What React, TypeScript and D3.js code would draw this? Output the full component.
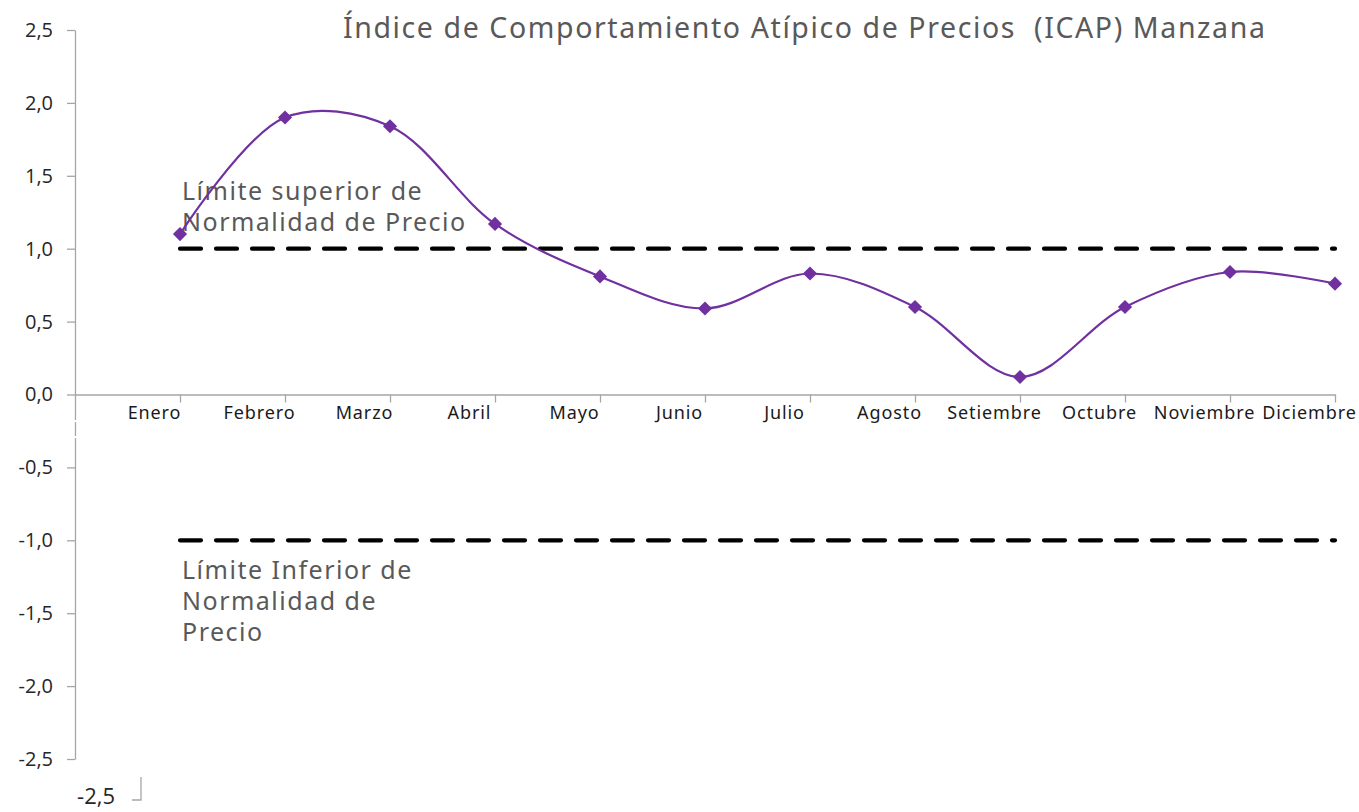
import React, { useEffect, useRef } from 'react';
import * as d3 from 'd3';

// ICAP Manzana, monthly values
const months = ['Enero', 'Febrero', 'Marzo', 'Abril', 'Mayo', 'Junio', 'Julio', 'Agosto', 'Setiembre', 'Octubre', 'Noviembre', 'Diciembre'];
const icap = [1.10, 1.90, 1.84, 1.17, 0.81, 0.59, 0.83, 0.60, 0.12, 0.60, 0.84, 0.76];
const yTicks = [2.5, 2.0, 1.5, 1.0, 0.5, 0.0, -0.5, -1.0, -1.5, -2.0, -2.5];
const limits = [1, -1];
const title = 'Índice de Comportamiento Atípico de Precios  (ICAP) Manzana';
const upperLabel = ['Límite superior de', 'Normalidad de Precio'];
const lowerLabel = ['Límite Inferior de', 'Normalidad de', 'Precio'];

const gotham = "'Noto Sans', 'Open Sans', sans-serif";
const calibri = "'Open Sans', 'Liberation Sans', sans-serif";

const fmt = (v: number) => d3.format('.1f')(v).replace('.', ',').replace('\u2212', '-');

function App() {
  const ref = useRef<SVGSVGElement>(null);

  useEffect(() => {
    document.body.style.margin = '0';
    const svg = d3.select(ref.current);
    svg.selectAll('*').remove();

    const width = 1359;
    const height = 812;
    const left = 75;
    const right = 1335;

    // leading blank slot so January sits one step right of the y axis
    const x = d3.scalePoint<string>().domain(['', ...months]).range([left, right]);
    const y = d3.scaleLinear().domain([-2.5, 2.5]).range([759, 30]);

    svg.attr('width', width).attr('height', height);

    // title
    svg.append('text')
      .attr('x', 343)
      .attr('y', 38)
      .attr('font-family', gotham)
      .attr('font-size', 28.5)
      .attr('letter-spacing', 1.6)
      .attr('fill', '#595959')
      .style('white-space', 'pre')
      .text(title);

    // y axis
    const yAxis = svg.append('g')
      .attr('transform', `translate(${left},0)`)
      .call(d3.axisLeft(y).tickValues(yTicks).tickSize(8).tickSizeOuter(0)
        .tickFormat((d) => fmt(d as number)));
    yAxis.select('.domain').attr('stroke', '#A6A6A6').attr('stroke-width', 1.3);
    yAxis.selectAll('.tick line').attr('stroke', '#A6A6A6').attr('stroke-width', 1.3);
    yAxis.selectAll('.tick text')
      .attr('x', -22)
      .attr('font-family', calibri)
      .attr('font-size', 20)
      .attr('fill', '#262626');

    // small breaks in the axis line just under zero
    svg.append('g')
      .selectAll('line')
      .data([421, 437])
      .join('line')
      .attr('x1', left - 2)
      .attr('x2', left + 2)
      .attr('y1', (d) => d)
      .attr('y2', (d) => d)
      .attr('stroke', '#fff')
      .attr('stroke-width', 2);

    // x axis at zero
    const xAxis = svg.append('g')
      .attr('transform', `translate(0,${y(0)})`)
      .call(d3.axisBottom(x).tickValues(months).tickSize(8).tickSizeOuter(0));
    xAxis.select('.domain').attr('stroke', '#A6A6A6').attr('stroke-width', 1.3);
    xAxis.selectAll('.tick line').attr('stroke', '#A6A6A6').attr('stroke-width', 1.3);
    xAxis.selectAll('.tick text')
      .attr('x', -26)
      .attr('y', 12)
      .attr('font-family', gotham)
      .attr('font-size', 18)
      .attr('letter-spacing', 0.9)
      .attr('fill', '#1a1a1a');

    // stray axis fragment below the chart
    svg.append('text')
      .attr('x', 115)
      .attr('y', 804)
      .attr('text-anchor', 'end')
      .attr('font-family', calibri)
      .attr('font-size', 22)
      .attr('fill', '#262626')
      .text(fmt(-2.5));
    svg.append('path')
      .attr('d', 'M141,777V800H132')
      .attr('fill', 'none')
      .attr('stroke', '#A6A6A6')
      .attr('stroke-width', 1.3);

    // normality limits
    svg.append('g')
      .selectAll('line')
      .data(limits)
      .join('line')
      .attr('x1', x(months[0])!)
      .attr('x2', x(months[11])!)
      .attr('y1', (d) => y(d))
      .attr('y2', (d) => y(d))
      .attr('stroke', '#000')
      .attr('stroke-width', 4.2)
      .attr('stroke-linecap', 'round')
      .attr('stroke-dasharray', '21 15');

    const addLabel = (lines: string[], x0: number, y0: number) => {
      svg.append('text')
        .attr('font-family', gotham)
        .attr('font-size', 25)
        .attr('letter-spacing', 1.5)
        .attr('fill', '#595959')
        .selectAll('tspan')
        .data(lines)
        .join('tspan')
        .attr('x', x0)
        .attr('y', (_, i) => y0 + i * 31)
        .text((d) => d);
    };
    addLabel(upperLabel, 182, 200);
    addLabel(lowerLabel, 182, 579);

    // ICAP series
    const line = d3.line<number>()
      .x((_, i) => x(months[i])!)
      .y((d) => y(d))
      .curve(d3.curveCatmullRom.alpha(0.5));

    svg.append('path')
      .datum(icap)
      .attr('d', line)
      .attr('fill', 'none')
      .attr('stroke', '#7030A0')
      .attr('stroke-width', 2.2);

    svg.append('g')
      .selectAll('path')
      .data(icap)
      .join('path')
      .attr('transform', (d, i) => `translate(${x(months[i])},${y(d)}) rotate(45)`)
      .attr('d', 'M-5,-5H5V5H-5Z')
      .attr('fill', '#7030A0');
  }, []);

  return <svg ref={ref}></svg>;
}

export default App;
